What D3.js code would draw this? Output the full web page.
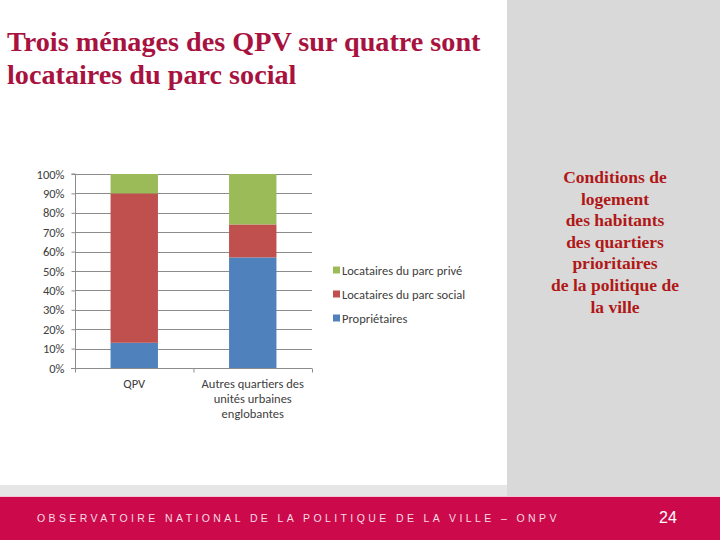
<!DOCTYPE html>
<html><head><meta charset="utf-8">
<script src="https://cdn.jsdelivr.net/npm/d3@7"></script>
<style>
html,body{margin:0;padding:0;background:#fff;}
svg{display:block;}
</style></head>
<body>
<svg id="c" width="720" height="540"></svg>
<script>
const categories = [["QPV"], ["Autres quartiers des", "unités urbaines", "englobantes"]];
const seriesNames = ["Propriétaires", "Locataires du parc social", "Locataires du parc privé"];
const proprietaires = [13, 57];
const locSocial = [77, 17];
const locPrive = [10, 26];
const yTicks = [0, 10, 20, 30, 40, 50, 60, 70, 80, 90, 100];
const seriesColors = ["#4f81bd", "#c0504d", "#9bbb59"];
const titleLines = ["Trois ménages des QPV sur quatre sont", "locataires du parc social"];
const sideLines = ["Conditions de", "logement", "des habitants", "des quartiers", "prioritaires", "de la politique de", "la ville"];
const footerText = "OBSERVATOIRE NATIONAL DE LA POLITIQUE DE LA VILLE – ONPV";
const pageNum = "24";

const svg = d3.select("#c");
// backgrounds
svg.append("rect").attr("x",507).attr("y",0).attr("width",213).attr("height",497).attr("fill","#d9d9d9");
svg.append("rect").attr("x",0).attr("y",485).attr("width",507).attr("height",11).attr("fill","#e6e6e6");
svg.append("rect").attr("x",0).attr("y",496).attr("width",720).attr("height",1).attr("fill","#f3c6d4");
svg.append("rect").attr("x",0).attr("y",497).attr("width",720).attr("height",43).attr("fill","#cc0a4b");

// title
const title = svg.append("text").attr("font-family","Liberation Serif, Times New Roman, serif")
  .attr("font-weight","bold").attr("font-size",28.2).attr("fill","#a8123f");
titleLines.forEach((t,i)=>title.append("tspan").attr("x",7).attr("y",51+i*33).text(t));

// side text
const side = svg.append("text").attr("font-family","Liberation Serif, Times New Roman, serif")
  .attr("font-weight","bold").attr("font-size",17.5).attr("fill","#b01818").attr("text-anchor","middle");
sideLines.forEach((t,i)=>side.append("tspan").attr("x",615).attr("y",183+i*21.6).text(t));

// footer
svg.append("text").attr("x",37).attr("y",522).attr("font-family","Liberation Sans, Arial, sans-serif")
  .attr("font-size",10.5).attr("letter-spacing",3.4).attr("fill","#f4dce4").text(footerText);
svg.append("text").attr("x",668).attr("y",523).attr("text-anchor","middle").attr("font-family","Liberation Sans, Arial, sans-serif")
  .attr("font-size",16).attr("fill","#ffffff").text(pageNum);

// chart
const x0 = 75, x1 = 312, yTop = 174, yBot = 368;
const y = d3.scaleLinear().domain([0,100]).range([yBot,yTop]);
const x = d3.scaleBand().domain(d3.range(categories.length)).range([x0,x1]).paddingInner(0.6).paddingOuter(0.3);
const g = svg.append("g");
const fontChart = "Carlito, Calibri, Liberation Sans, sans-serif";
const fs = 12.5;

// gridlines
g.selectAll(".grid").data(yTicks.filter(d=>d>0)).enter().append("line")
  .attr("x1",x0).attr("x2",x1).attr("y1",d=>Math.round(y(d))+0.5).attr("y2",d=>Math.round(y(d))+0.5)
  .attr("stroke","#8c8c8c").attr("stroke-width",1);

// stacked bars
const data = categories.map((c,i)=>({i, Propriétaires: proprietaires[i], "Locataires du parc social": locSocial[i], "Locataires du parc privé": locPrive[i]}));
const stack = d3.stack().keys(seriesNames)(data);
stack.forEach((s,k)=>{
  g.selectAll(".b"+k).data(s).enter().append("rect")
    .attr("x",d=>x(d.data.i)).attr("width",x.bandwidth())
    .attr("y",d=>y(d[1])).attr("height",d=>y(d[0])-y(d[1]))
    .attr("fill",seriesColors[k]);
});

// y axis
const yAxis = d3.axisLeft(y).tickValues(yTicks).tickSize(4).tickFormat(d=>d+"%");
const ya = g.append("g").attr("transform",`translate(${x0+0.5},0)`).call(yAxis);
ya.select(".domain").attr("stroke","#8c8c8c").attr("d",`M-4,${yTop}H0V${yBot}`);
ya.selectAll(".tick line").attr("stroke","#8c8c8c");
ya.selectAll(".tick text").attr("font-family",fontChart).attr("font-size",fs).attr("fill","#404040").attr("x",-11);

// x axis
const xe = d3.scaleLinear().domain([0,categories.length]).range([x0,x1]);
const xa = g.append("g").attr("transform",`translate(0,${yBot+0.5})`)
  .call(d3.axisBottom(xe).tickValues(d3.range(categories.length+1)).tickSize(4).tickFormat(""));
xa.select(".domain").attr("stroke","#8c8c8c").attr("d",`M${x0-4},0H${x1}`);
xa.selectAll(".tick line").attr("stroke","#8c8c8c");
categories.forEach((lines,i)=>{
  const t = g.append("text").attr("font-family",fontChart).attr("font-size",fs).attr("fill","#404040").attr("text-anchor","middle");
  lines.forEach((l,j)=>t.append("tspan").attr("x",x(i)+x.bandwidth()/2).attr("y",388+j*15).text(l));
});

// legend
const legOrder = [2,1,0];
legOrder.forEach((k,j)=>{
  const ly = 270 + j*24;
  g.append("rect").attr("x",333).attr("y",ly-3.5).attr("width",7).attr("height",7).attr("fill",seriesColors[k]);
  g.append("text").attr("x",342).attr("y",ly+4.5).attr("font-family",fontChart).attr("font-size",fs).attr("fill","#404040").text(seriesNames[k]);
});
</script>
</body></html>
